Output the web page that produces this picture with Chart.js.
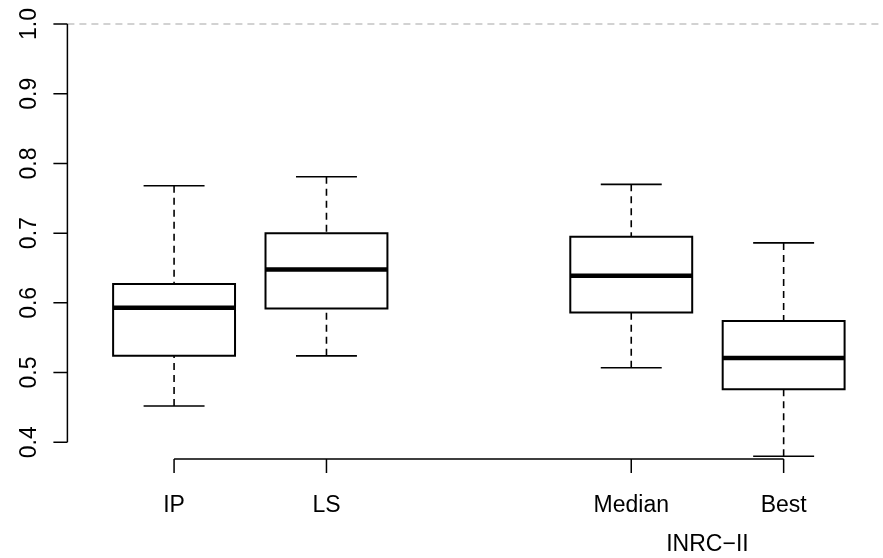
<!DOCTYPE html>
<html>
<head>
<meta charset="utf-8">
<script src="https://cdn.jsdelivr.net/npm/chart.js@4/dist/chart.umd.min.js"></script>
<style>
  html, body { margin: 0; padding: 0; background: #fff; }
  canvas { display: block; }
</style>
</head>
<body>
<canvas id="chart" width="883" height="558"></canvas>
<script>
// box statistics
const groups = ['IP', 'LS', 'Median', 'Best'];
const positions = [1, 2, 4, 5];
const whiskerLow = [0.452, 0.524, 0.507, 0.380];
const quartile1 = [0.524, 0.592, 0.586, 0.476];
const medians = [0.593, 0.648, 0.639, 0.521];
const quartile3 = [0.627, 0.700, 0.695, 0.574];
const whiskerHigh = [0.768, 0.781, 0.770, 0.686];

const yTicks = [0.4, 0.5, 0.6, 0.7, 0.8, 0.9, 1.0];
const yTickLabels = ['0.4', '0.5', '0.6', '0.7', '0.8', '0.9', '1.0'];
const refLine = 1.0;
const groupLabel = 'INRC\u2212II';
const groupLabelAt = 4.5;

const BOX_HALF = 0.4;
const CAP_HALF = 0.2;
const X_MIN = 0.3;
const X_MAX = 5.652;
const FONT = '23px "Liberation Sans", Arial, sans-serif';

function boxPoints() {
    let pts = [];
    positions.forEach((p, i) => {
        pts.push({x: p - BOX_HALF, y: quartile1[i]});
        pts.push({x: p + BOX_HALF, y: quartile1[i]});
        pts.push({x: p + BOX_HALF, y: quartile3[i]});
        pts.push({x: p - BOX_HALF, y: quartile3[i]});
        pts.push({x: p - BOX_HALF, y: quartile1[i]});
        pts.push({x: p, y: null});
    });
    return pts;
}

function medianPoints() {
    let pts = [];
    positions.forEach((p, i) => {
        pts.push({x: p - BOX_HALF, y: medians[i]});
        pts.push({x: p + BOX_HALF, y: medians[i]});
        pts.push({x: p, y: null});
    });
    return pts;
}

function whiskerPoints() {
    let pts = [];
    positions.forEach((p, i) => {
        pts.push({x: p, y: whiskerHigh[i]});
        pts.push({x: p, y: quartile3[i]});
        pts.push({x: p + 0.01, y: null});
        pts.push({x: p, y: whiskerLow[i]});
        pts.push({x: p, y: quartile1[i]});
        pts.push({x: p + 0.02, y: null});
    });
    return pts;
}

function capPoints() {
    let pts = [];
    positions.forEach((p, i) => {
        pts.push({x: p - CAP_HALF, y: whiskerHigh[i]});
        pts.push({x: p + CAP_HALF, y: whiskerHigh[i]});
        pts.push({x: p, y: null});
        pts.push({x: p - CAP_HALF, y: whiskerLow[i]});
        pts.push({x: p + CAP_HALF, y: whiskerLow[i]});
        pts.push({x: p + 0.01, y: null});
    });
    return pts;
}

const lineBase = {
    type: 'line',
    pointRadius: 0,
    pointHoverRadius: 0,
    tension: 0,
    fill: false,
    spanGaps: false,
    clip: false,
    borderColor: '#000',
};

// R style axes: line only between the outer ticks, rotated y labels
const rAxes = {
    id: 'rAxes',
    afterDatasetsDraw(chart) {
        const {ctx, chartArea, scales: {x, y}} = chart;
        const left = chartArea.left;
        const bottom = chartArea.bottom;
        ctx.save();
        ctx.strokeStyle = '#000';
        ctx.lineWidth = 1.5;
        ctx.fillStyle = '#000';
        ctx.font = FONT;

        ctx.beginPath();
        ctx.moveTo(left, y.getPixelForValue(yTicks[0]));
        ctx.lineTo(left, y.getPixelForValue(yTicks[yTicks.length - 1]));
        yTicks.forEach(v => {
            const py = y.getPixelForValue(v);
            ctx.moveTo(left, py);
            ctx.lineTo(left - 14, py);
        });
        ctx.moveTo(x.getPixelForValue(positions[0]), bottom);
        ctx.lineTo(x.getPixelForValue(positions[positions.length - 1]), bottom);
        positions.forEach(p => {
            const px = x.getPixelForValue(p);
            ctx.moveTo(px, bottom);
            ctx.lineTo(px, bottom + 14);
        });
        ctx.stroke();

        ctx.textAlign = 'center';
        ctx.textBaseline = 'alphabetic';
        yTicks.forEach((v, i) => {
            ctx.save();
            ctx.translate(left - 31.5, y.getPixelForValue(v));
            ctx.rotate(-Math.PI / 2);
            ctx.fillText(yTickLabels[i], 0, 0);
            ctx.restore();
        });
        groups.forEach((g, i) => {
            ctx.fillText(g, x.getPixelForValue(positions[i]), bottom + 52.5);
        });
        ctx.fillText(groupLabel, x.getPixelForValue(groupLabelAt), bottom + 92);
        ctx.restore();
    }
};

new Chart(document.getElementById('chart'), {
    type: 'line',
    data: {
        datasets: [
            Object.assign({}, lineBase, {
                label: 'median',
                data: medianPoints(),
                borderWidth: 4.5,
                borderCapStyle: 'butt',
            }),
            Object.assign({}, lineBase, {
                label: 'box',
                data: boxPoints(),
                borderWidth: 2,
                borderCapStyle: 'square',
                borderJoinStyle: 'miter',
            }),
            Object.assign({}, lineBase, {
                label: 'caps',
                data: capPoints(),
                borderWidth: 1.6,
            }),
            Object.assign({}, lineBase, {
                label: 'whiskers',
                data: whiskerPoints(),
                borderWidth: 1.6,
                borderDash: [7, 5],
            }),
            Object.assign({}, lineBase, {
                label: 'reference',
                data: [{x: X_MIN, y: refLine}, {x: X_MAX, y: refLine}],
                borderColor: '#c4c4c4',
                borderWidth: 1.4,
                borderDash: [7, 5],
            }),
        ]
    },
    options: {
        responsive: false,
        animation: false,
        devicePixelRatio: 1,
        layout: {
            padding: {left: 67.4, right: 0, top: 7.3, bottom: 99}
        },
        scales: {
            x: {type: 'linear', min: X_MIN, max: X_MAX, display: false},
            y: {type: 'linear', min: 0.376, max: 1.024, display: false},
        },
        plugins: {
            legend: {display: false},
            tooltip: {enabled: false},
        },
        events: [],
    },
    plugins: [rAxes],
});
</script>
</body>
</html>
